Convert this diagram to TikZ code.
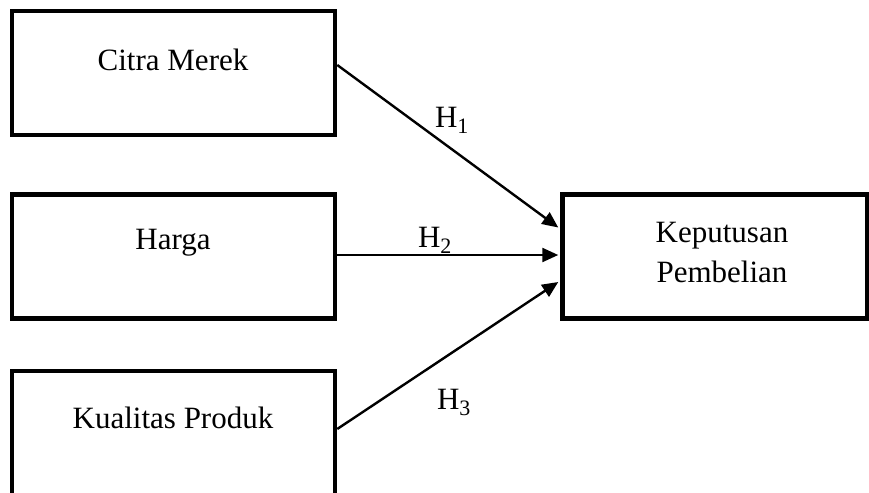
\documentclass[tikz,border=0pt]{standalone}
\usepackage{fontspec}
\setmainfont{Liberation Serif}
\usetikzlibrary{arrows.meta,calc}
\begin{document}
\begin{tikzpicture}[x=1pt,y=-1pt,
  box/.style={draw=black,line width=4.5pt,rectangle,minimum width=323pt,minimum height=124pt,inner sep=0pt},
  lbl/.style={font=\fontsize{31}{40}\selectfont,inner sep=0pt,align=center},
  arr/.style={line width=2.4pt,-{Triangle[length=16pt,width=14pt]}}]
\useasboundingbox[fill=white] (0,0) rectangle (869,492);
\begin{scope}
\clip (0,0) rectangle (869,492);
\node[box] (cm) at (173.5,73) {};
\node[box] (hg) at (173.5,256.5) {};
\node[box] (kp) at (173.5,433) {};
\node[box,minimum width=305pt] (kb) at (715,256.5) {};
\end{scope}
\node[lbl] (tcm) at (173,60) {Citra Merek};
\node[lbl] (thg) at (173,243) {Harga};
\node[lbl] (tkp) at (173,418) {Kualitas Produk};
\node[lbl] (tkb) at (722,252) {Keputusan\\Pembelian};
\draw[arr] ($(cm.east)+(0,-8)$) -- ($(kb.west)+(-2,-29)$);
\draw[arr] ($(hg.east)+(0,-1.5)$) -- ($(kb.west)+(-2,-1.5)$);
\draw[arr] ($(kp.east)+(0,-4)$) -- ($(kb.west)+(-2,25.5)$);
\node[lbl] (h1) at (452,120) {H\textsubscript{\fontsize{22}{22}\selectfont 1}};
\node[lbl] (h2) at (435,240) {H\textsubscript{\fontsize{22}{22}\selectfont 2}};
\node[lbl] (h3) at (454,402) {H\textsubscript{\fontsize{22}{22}\selectfont 3}};
\end{tikzpicture}
\end{document}
